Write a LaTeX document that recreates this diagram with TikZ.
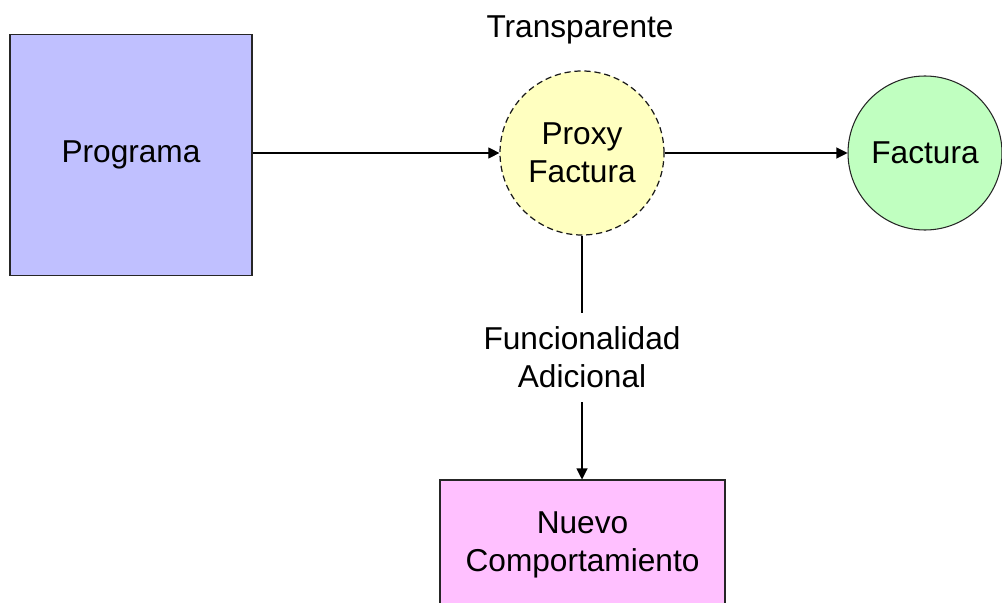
\documentclass[tikz,border=0pt]{standalone}
\usepackage{fontspec}
\setmainfont{Liberation Sans}
\usetikzlibrary{positioning,arrows.meta}

\definecolor{progfill}{RGB}{192,192,255}
\definecolor{proxyfill}{RGB}{255,255,192}
\definecolor{factfill}{RGB}{192,255,192}
\definecolor{nuevofill}{RGB}{255,192,255}

\begin{document}
\begin{tikzpicture}[
  font=\fontsize{18}{21.5}\selectfont,
  line width=0.6pt,
  progblock/.style={
    rectangle,
    draw=black!85,
    fill=progfill,
    inner sep=0pt,
    minimum width=48.4mm,
    minimum height=48.2mm
  },
  proxycircle/.style={
    circle,
    draw=black!90,
    line width=0.7pt,
    dash pattern=on 3.5pt off 2.2pt,
    fill=proxyfill,
    inner sep=0pt,
    minimum size=32.8mm,
    align=center
  },
  factcircle/.style={
    circle,
    draw=black!85,
    fill=factfill,
    inner sep=0pt,
    minimum size=30.8mm
  },
  nuevoblock/.style={
    rectangle,
    draw=black!85,
    fill=nuevofill,
    inner sep=0pt,
    minimum width=57mm,
    minimum height=26mm,
    align=center
  },
  link/.style={-{Triangle[length=2.2mm,width=2.2mm]}, black}]
  \useasboundingbox (0,0) rectangle (20.04,-12.04);

  \node (prog) [progblock] at (2.62,-3.10) {Programa};
  \node (proxy) [proxycircle] at (11.64,-3.06) {Proxy\\Factura};
  \node (fact) [factcircle] at (18.50,-3.06) {Factura};
  \node (nuevo) [nuevoblock] at (11.65,-10.90) {Nuevo\\Comportamiento};
  \node (transp) at (11.60,-0.60) {Transparente};

  % connectors
  \draw[link] (prog.east |- proxy.west) -- (proxy.west);
  \draw[link] (proxy.east) -- (fact.west);
  \draw[link] (proxy.south) -- node[fill=white, align=center, inner sep=2.8mm]
    {Funcionalidad\\Adicional} (proxy.south |- nuevo.north);

\end{tikzpicture}
\end{document}
